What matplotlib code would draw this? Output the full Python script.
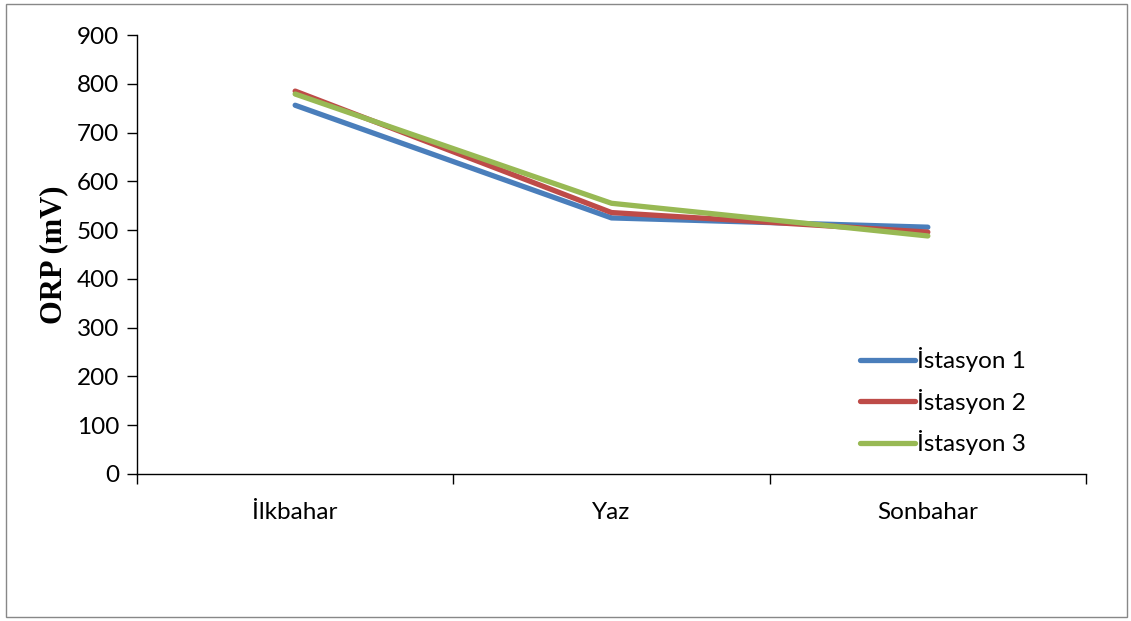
import numpy as np
import matplotlib.pyplot as plt
from matplotlib.patches import Rectangle

seasons = ["İlkbahar", "Yaz", "Sonbahar"]
station1 = [756, 525, 506]
station2 = [785, 536, 496]
station3 = [779, 555, 488]
labels = ["İstasyon 1", "İstasyon 2", "İstasyon 3"]
colors = ["#4A7EBB", "#BE4B48", "#98B954"]

plt.rcParams['font.family'] = ['Lato', 'DejaVu Sans']

fig = plt.figure(figsize=(11.31, 6.21), dpi=100)
ax = fig.add_axes([137/1131, 1 - 474/621, (1086 - 137)/1131, (474 - 35)/621])

x = np.arange(len(seasons))
for vals, lab, c in zip([station1, station2, station3], labels, colors):
    ax.plot(x, vals, color=c, lw=3.8, label=lab, solid_capstyle='round')

ax.set_xlim(-0.5, 2.5)
ax.set_ylim(0, 900)
ax.set_yticks(np.arange(0, 901, 100))
ax.set_xticks(x)
ax.set_xticklabels(seasons)
ax.set_xticks([-0.5, 0.5, 1.5, 2.5], minor=True)
ax.tick_params(axis='x', which='major', length=0, pad=20, labelsize=17.5)
ax.tick_params(axis='x', which='minor', length=7, width=1)
ax.tick_params(axis='y', length=7, width=1, labelsize=17.5, pad=6)
for s in ['top', 'right']:
    ax.spines[s].set_visible(False)
for s in ['left', 'bottom']:
    ax.spines[s].set_linewidth(1)

ax.set_ylabel("ORP (mV)", family='Liberation Serif', fontweight='bold', fontsize=22, labelpad=6)

leg = ax.legend(loc='upper left', bbox_to_anchor=(0.739, 0.339), frameon=False,
                fontsize=17.5, handlelength=2.26, handletextpad=0.08, labelspacing=0.68)

fig.patches.append(Rectangle((6/1131, 4/621), 1121/1131, 613/621, transform=fig.transFigure,
                             fill=False, edgecolor='#888888', lw=1))

fig.savefig("out.png", dpi=100)
